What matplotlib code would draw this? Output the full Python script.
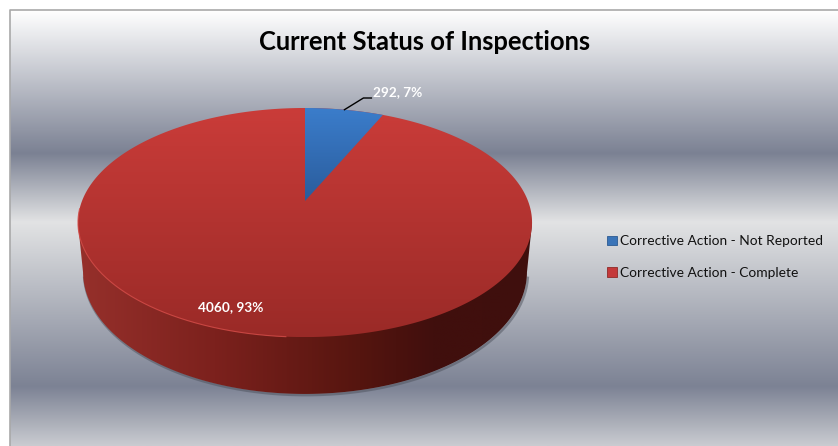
import numpy as np
import matplotlib
matplotlib.use('Agg')
import matplotlib.pyplot as plt
from matplotlib.colors import LinearSegmentedColormap
from matplotlib.patches import Polygon, Patch

title = 'Current Status of Inspections'
labels = ['Corrective Action - Not Reported', 'Corrective Action - Complete']
values = [292, 4060]
percents = [7, 93]

W, H = 838, 446
K = 0.188  # perspective of the tilted disc


def rim(theta, a, b, y0, cx=305):
    """Project angles on the disc (clockwise from 12 o'clock) to pixels"""
    u, v = np.sin(theta), np.cos(theta)
    w = 1 + K * v
    return np.column_stack([cx + a * u / w, y0 - b * v / w])


def top_rim(theta):
    return rim(theta, 223, 110.5, 201)


def bottom_rim(theta):
    return rim(theta, 218, 117.7, 249)


def gradient(ax, stops, extent, clip=None, horizontal=False, zorder=1):
    """Fill extent with a gradient, stops are (position 0-1, colour)"""
    cmap = LinearSegmentedColormap.from_list('g', stops)
    ramp = np.linspace(0, 1, 256)
    ramp = ramp.reshape(1, -1) if horizontal else ramp.reshape(-1, 1)
    im = ax.imshow(ramp, cmap=cmap, vmin=0, vmax=1, extent=extent,
                   aspect='auto', interpolation='bilinear', zorder=zorder)
    if clip is not None:
        patch = Polygon(clip, closed=True, transform=ax.transData)
        im.set_clip_path(patch)
    return im


fig = plt.figure(figsize=(W / 100, H / 100), dpi=100, facecolor='white')
ax = fig.add_axes([0, 0, 1, 1])
ax.axis('off')

# background
y_bg = 10
bg_stops = [(0, '#ffffff'), ((153 - y_bg) / 436, '#7b8193'),
            ((222 - y_bg) / 436, '#e2e3e4'), ((387 - y_bg) / 436, '#7c8294'),
            (1, '#c9cbd0')]
gradient(ax, bg_stops, (10, W, H, y_bg), zorder=0)
ax.plot([10, 10, W], [H, 10, 10], color='#a9a9a9', lw=1.2, zorder=1)

# angles from the data
total = sum(values)
edges = 2 * np.pi * np.cumsum([0] + values) / total
circle = np.linspace(0, 2 * np.pi, 721)
top = top_rim(circle)
bottom = bottom_rim(circle)

# side wall
front = bottom[bottom[:, 1] >= 272]
front = front[np.argsort(front[:, 0])]
left_pt = top[np.argmin(top[:, 0])]
right_pt = top[np.argmax(top[:, 0])]
wall = np.vstack([left_pt, front, right_pt])
shadow = front[front[:, 1] >= 276]
ax.plot(shadow[:, 0] + 1, shadow[:, 1] + 1.2, color='#4d515c', alpha=0.5, lw=1.8, zorder=2)
gradient(ax, [(0, '#96302b'), (0.3, '#7c211d'), (0.62, '#55150f'),
              (0.78, '#410f0d'), (1, '#3f0f0d')],
         (78, 532, 400, 220), clip=wall, horizontal=True, zorder=3)

# top face
y0, y1 = 108, 337
red = [(0, '#ca3c39'), (0.5, '#b23330'), (1, '#9a2a27')]
blue = [(0, '#3b7dcb'), (1, '#2a5c9c')]
gradient(ax, red, (78, 532, y1, y0), clip=top, zorder=4)
arc = np.linspace(edges[0], edges[1], 60)
wedge = np.vstack([top_rim(np.array([0.0])), top_rim(arc)])
wedge[0] = [305, 201]
gradient(ax, blue, (78, 532, 201, y0), clip=wedge, zorder=5)

# light edge along the front left of the top face
edge = top[(circle > np.pi * 1.02) & (circle < np.pi * 1.48)]
ax.plot(edge[:, 0], edge[:, 1], color='#d34c48', lw=0.8, alpha=0.85, zorder=6)

# data labels
mid = top_rim(np.array([(edges[0] + edges[1]) / 2]))[0]
ax.plot([mid[0], mid[0] + 19, mid[0] + 27], [mid[1], 98, 98], color='black', lw=1, zorder=7)
label_font = dict(family='Lato', weight='bold', size=9.8, color='white', zorder=8)
ax.text(373, 92, f'{values[0]}, {percents[0]}%', ha='left', va='center', **label_font)
ax.text(231, 307, f'{values[1]}, {percents[1]}%', ha='center', va='center', **label_font)

ax.text(424.5, 42.5, title, family='Lato', weight='bold', size=18.4, color='black',
        ha='center', va='center', zorder=8)

# legend
handles = [Patch(facecolor='#3a74b8', edgecolor='#2c5a92', lw=0.6),
           Patch(facecolor='#c4393a', edgecolor='#8f2a28', lw=0.6)]
ax.legend(handles, labels, loc='center left', bbox_to_anchor=(607, 257),
          bbox_transform=ax.transData, frameon=False,
          prop=dict(family='Lato', size=9.9), labelcolor='#111111',
          handlelength=0.72, handleheight=0.72, handletextpad=0.2,
          labelspacing=1.42, borderpad=0, borderaxespad=0)

ax.set_xlim(0, W)
ax.set_ylim(H, 0)
fig.savefig('out.png', dpi=100)
